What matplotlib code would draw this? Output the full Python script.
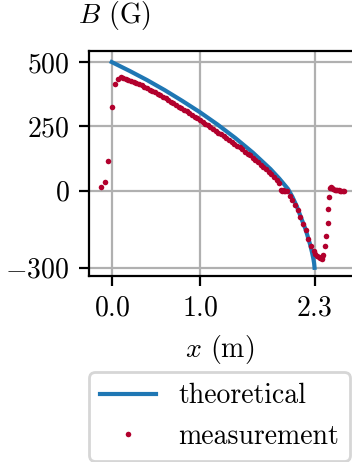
import matplotlib
matplotlib.use("Agg")
import matplotlib.pyplot as plt

# --- data ---
x_theory = [0.0, 0.2, 0.4, 0.6, 0.8, 1.0, 1.2, 1.4, 1.6, 1.8, 1.9, 2.0,
            2.05, 2.1, 2.15, 2.2, 2.25, 2.27, 2.285, 2.295, 2.3]
b_theory = [500, 466, 430, 391, 349, 305, 257, 205, 148, 84, 47, 6,
            -25, -62, -108, -152, -210, -238, -262, -282, -300]

x_meas = [-0.12, -0.08, -0.04, 0.0, 0.04, 0.07, 0.10,
          0.13, 0.16, 0.19, 0.22, 0.25, 0.28, 0.31, 0.34, 0.37, 0.40,
          0.43, 0.46, 0.49, 0.52, 0.55, 0.58, 0.61, 0.64, 0.67, 0.70,
          0.73, 0.76, 0.79, 0.82, 0.85, 0.88, 0.91, 0.94, 0.97, 1.00,
          1.03, 1.06, 1.09, 1.12, 1.15, 1.18, 1.21, 1.24, 1.27, 1.30,
          1.33, 1.36, 1.39, 1.42, 1.45, 1.48, 1.51, 1.54, 1.57, 1.60,
          1.63, 1.66, 1.69, 1.72, 1.75, 1.78, 1.81, 1.84, 1.87, 1.90,
          1.92, 1.935, 1.945, 1.955, 1.96,
          1.99, 2.02, 2.05, 2.08, 2.11, 2.14, 2.17, 2.20, 2.23, 2.26,
          2.29, 2.31, 2.33, 2.35, 2.365, 2.38, 2.39, 2.40,
          2.42, 2.433, 2.448, 2.452, 2.459, 2.478, 2.49, 2.50,
          2.515, 2.53, 2.545, 2.56, 2.575, 2.59, 2.605, 2.62, 2.635]
b_meas = [13, 34, 115, 324, 415, 436, 441,
          438, 434, 431, 427, 423, 419, 414, 409, 403, 398,
          392, 388, 382, 376, 370, 365, 359, 353, 346, 340,
          334, 327, 321, 315, 308, 301, 295, 288, 282, 275,
          268, 261, 254, 247, 241, 233, 226, 219, 212, 205,
          197, 190, 183, 175, 168, 160, 152, 144, 137, 128,
          119, 111, 101, 92, 83, 73, 63, 52, 42, 31,
          3, -2, 4, 0, -3,
          -3, -22, -35, -55, -77, -104, -129, -155, -188, -215,
          -235, -245, -253, -259, -263, -264, -260, -250,
          -217, -176, -124, -72, -26, 9, 15, 12,
          6, 3, 2, 1, 1, 0, 0, 0, 0]

x_ticks = [0.0, 1.0, 2.3]
y_ticks = [500, 250, 0, -300]

BLUE = "#1f77b4"
RED = "#b2002d"

plt.rcParams.update({
    "font.family": "serif",
    "font.serif": ["cmr10"],
    "mathtext.fontset": "cm",
    "axes.formatter.use_mathtext": True,
    "font.size": 10,
    "axes.unicode_minus": True,
})

fig = plt.figure(figsize=(1.76, 2.31), dpi=200)
ax = fig.add_axes([0.2528, 0.4026, 0.7585, 0.487])

ax.plot(x_theory, b_theory, color=BLUE, lw=1.5, label="theoretical", zorder=2)
ax.plot(x_meas, b_meas, linestyle="none", marker="o", ms=2.0, mew=0,
        color=RED, label="measurement", zorder=3)

ax.set_xlim(-0.258, 2.77)
ax.set_ylim(-332, 543)
ax.set_xticks(x_ticks)
ax.set_yticks(y_ticks)
ax.grid(True, color="#b0b0b0", lw=0.8)

ax.set_xlabel(r"$x$ (m)")
ax.xaxis.label.set_x(0.49)
ax.text(0.096, 1.124, r"$B$ (G)", transform=ax.transAxes,
        ha="center", va="baseline")

ax.legend(loc="upper center", bbox_to_anchor=(0.489, -0.365))

fig.savefig("out.png", dpi=200)
